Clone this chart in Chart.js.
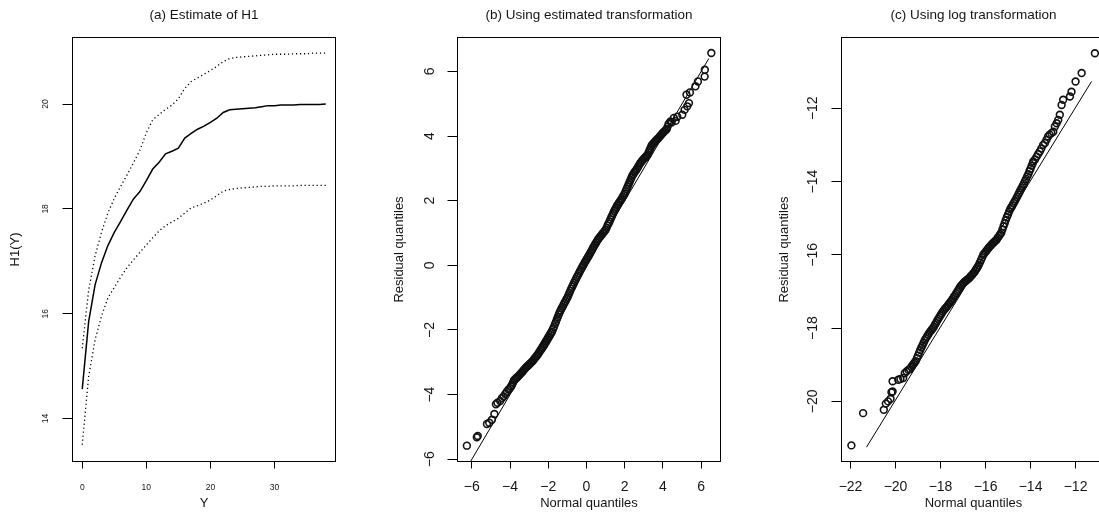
<!DOCTYPE html>
<html>
<head>
<meta charset="utf-8">
<script src="https://cdn.jsdelivr.net/npm/chart.js@4.4.1/dist/chart.umd.min.js"></script>
<style>
html, body { margin: 0; padding: 0; background: #fff; overflow: hidden; width: 1099px; height: 513px; }
canvas { position: absolute; top: 0; }
</style>
</head>
<body>
<canvas id="panelA" width="366" height="513" style="left:0px"></canvas>
<canvas id="panelB" width="367" height="513" style="left:366px"></canvas>
<canvas id="panelC" width="400" height="513" style="left:733px"></canvas>
<script>
// (a) estimate of H1 with its band
const aY = [0, 1, 2, 3, 4, 5, 6, 7, 8, 9, 10, 11, 12, 13, 14, 15, 16, 17, 18, 19,
            20, 21, 22, 23, 24, 25, 26, 27, 28, 29, 30, 31, 32, 33, 34, 35, 36, 37, 38];
const aH1 = [14.56, 15.85, 16.55, 16.97, 17.30, 17.55, 17.76, 17.98, 18.19, 18.33,
             18.54, 18.76, 18.89, 19.05, 19.10, 19.16, 19.35, 19.44, 19.52, 19.58,
             19.65, 19.73, 19.84, 19.89, 19.90, 19.91, 19.92, 19.93, 19.95, 19.97,
             19.97, 19.98, 19.98, 19.98, 19.99, 19.99, 19.99, 19.99, 20.00];
const aUpper = [15.34, 16.45, 17.10, 17.55, 17.92, 18.20, 18.43, 18.65, 18.88, 19.12,
                19.45, 19.70, 19.80, 19.90, 19.98, 20.10, 20.30, 20.43, 20.50, 20.57,
                20.64, 20.72, 20.81, 20.87, 20.89, 20.90, 20.91, 20.92, 20.93, 20.94,
                20.95, 20.95, 20.95, 20.96, 20.96, 20.96, 20.97, 20.97, 20.97];
const aLower = [13.50, 14.80, 15.50, 15.95, 16.30, 16.50, 16.70, 16.88, 17.03, 17.17,
                17.31, 17.45, 17.58, 17.68, 17.75, 17.82, 17.92, 18.02, 18.06, 18.11,
                18.17, 18.25, 18.34, 18.37, 18.39, 18.40, 18.41, 18.42, 18.43, 18.43,
                18.44, 18.44, 18.44, 18.44, 18.45, 18.45, 18.45, 18.45, 18.45];
const aXTicks = [0, 10, 20, 30];
const aYTicks = [14, 16, 18, 20];

// (b) QQ plot, estimated transformation
const bTheo = [
  -6.26, -5.74, -5.69, -5.21, -5.09, -4.95, -4.82, -4.74, -4.66, -4.52, -4.43, -4.34, -4.25, -4.17, -4.08, -4.00, -3.95,
  -3.90, -3.85, -3.80, -3.75, -3.70, -3.65, -3.60, -3.55, -3.50, -3.45,
  -3.40, -3.35, -3.30, -3.25, -3.20, -3.15, -3.10, -3.05, -3.00, -2.95,
  -2.90, -2.85, -2.80, -2.75, -2.70, -2.65, -2.60, -2.55, -2.50, -2.45,
  -2.40, -2.35, -2.30, -2.25, -2.20, -2.15, -2.10, -2.05, -2.00, -1.95,
  -1.90, -1.85, -1.80, -1.75, -1.70, -1.65, -1.60, -1.55, -1.50, -1.45,
  -1.40, -1.35, -1.30, -1.25, -1.20, -1.15, -1.10, -1.05, -1.00, -0.95,
  -0.90, -0.85, -0.80, -0.75, -0.70, -0.65, -0.60, -0.55, -0.50, -0.45,
  -0.40, -0.35, -0.30, -0.25, -0.20, -0.15, -0.10, -0.05, 0.00, 0.05,
  0.10, 0.15, 0.20, 0.25, 0.30, 0.35, 0.40, 0.45, 0.50, 0.55,
  0.60, 0.65, 0.70, 0.75, 0.80, 0.85, 0.90, 0.95, 1.00, 1.05,
  1.10, 1.15, 1.20, 1.25, 1.30, 1.35, 1.40, 1.45, 1.50, 1.55,
  1.60, 1.65, 1.70, 1.75, 1.80, 1.85, 1.90, 1.95, 2.00, 2.05,
  2.10, 2.15, 2.20, 2.25, 2.30, 2.35, 2.40, 2.45, 2.50, 2.55,
  2.60, 2.65, 2.70, 2.75, 2.80, 2.85, 2.90, 2.95, 3.00, 3.05,
  3.10, 3.15, 3.20, 3.25, 3.30, 3.35, 3.40, 3.45, 3.50, 3.55,
  3.60, 3.65, 3.70, 3.75, 3.80, 3.85, 3.90, 3.95, 4.00, 4.05,
  4.10, 4.15, 4.20, 4.25, 4.30,
  4.39, 4.45, 4.57, 4.66, 4.75, 5.01, 5.13, 5.27, 5.36, 5.23, 5.41, 5.70, 5.83, 6.18, 6.19, 6.53
];
const bResid = [
  -5.58, -5.32, -5.28, -4.91, -4.87, -4.78, -4.60, -4.30, -4.25, -4.20, -4.11, -4.06, -3.98, -3.91, -3.84, -3.80, -3.75,
  -3.70, -3.63, -3.56, -3.53, -3.50, -3.48, -3.45, -3.42, -3.39, -3.35,
  -3.32, -3.29, -3.25, -3.22, -3.18, -3.15, -3.12, -3.10, -3.07, -3.04,
  -3.01, -2.98, -2.95, -2.91, -2.87, -2.84, -2.80, -2.76, -2.72, -2.67,
  -2.63, -2.59, -2.54, -2.50, -2.45, -2.40, -2.35, -2.30, -2.25, -2.20,
  -2.15, -2.10, -2.05, -1.97, -1.90, -1.82, -1.75, -1.67, -1.60, -1.52,
  -1.45, -1.39, -1.33, -1.28, -1.22, -1.16, -1.11, -1.05, -1.00, -0.93,
  -0.86, -0.79, -0.72, -0.66, -0.60, -0.54, -0.48, -0.42, -0.36, -0.31,
  -0.25, -0.19, -0.14, -0.08, -0.03, 0.02, 0.08, 0.13, 0.18, 0.23,
  0.28, 0.33, 0.38, 0.44, 0.49, 0.55, 0.60, 0.65, 0.70, 0.75,
  0.80, 0.84, 0.88, 0.91, 0.95, 0.99, 1.02, 1.06, 1.10, 1.16,
  1.23, 1.29, 1.35, 1.42, 1.49, 1.55, 1.62, 1.68, 1.74, 1.79,
  1.85, 1.89, 1.94, 1.98, 2.02, 2.07, 2.12, 2.17, 2.22, 2.29,
  2.36, 2.43, 2.50, 2.57, 2.64, 2.71, 2.78, 2.82, 2.87, 2.91,
  2.95, 3.00, 3.05, 3.10, 3.15, 3.19, 3.23, 3.26, 3.30, 3.33,
  3.36, 3.39, 3.42, 3.49, 3.56, 3.63, 3.70, 3.74, 3.77, 3.81,
  3.84, 3.87, 3.90, 3.93, 3.96, 4.00, 4.03, 4.07, 4.10, 4.13,
  4.16, 4.19, 4.22, 4.30, 4.38,
  4.45, 4.42, 4.56, 4.47, 4.60, 4.66, 4.81, 4.92, 5.02, 5.28, 5.35, 5.54, 5.69, 5.84, 6.05, 6.57
];
const bLineX = [-6.1, 6.4];
const bLineY = [-6.1, 6.4];
const bTicks = [-6, -4, -2, 0, 2, 4, 6];

// (c) QQ plot, log transformation
const cTheo = [
  -21.96, -21.44, -20.52, -20.43, -20.33, -20.22, -20.18, -20.13, -20.13, -19.88, -19.78, -19.66, -19.59, -19.51, -19.43, -19.36,
  -19.30, -19.25, -19.20, -19.15, -19.10, -19.05, -19.00, -18.95, -18.90, -18.85,
  -18.80, -18.75, -18.70, -18.65, -18.60, -18.55, -18.50, -18.45, -18.40, -18.35,
  -18.30, -18.25, -18.20, -18.15, -18.10, -18.05, -18.00, -17.95, -17.90, -17.85,
  -17.80, -17.75, -17.70, -17.65, -17.60, -17.55, -17.50, -17.45, -17.40, -17.35,
  -17.30, -17.25, -17.20, -17.15, -17.10, -17.05, -17.00, -16.95, -16.90, -16.85,
  -16.80, -16.75, -16.70, -16.65, -16.60, -16.55, -16.50, -16.45, -16.40, -16.35,
  -16.30, -16.25, -16.20, -16.15, -16.10, -16.05, -16.00, -15.95, -15.90, -15.85,
  -15.80, -15.75, -15.70, -15.65, -15.60, -15.55, -15.50, -15.45, -15.40, -15.35,
  -15.30, -15.25, -15.20, -15.15, -15.10, -15.05, -15.00, -14.95, -14.90, -14.85,
  -14.80, -14.75, -14.70, -14.65, -14.60, -14.55, -14.50, -14.45, -14.40, -14.35,
  -14.30, -14.25, -14.20, -14.15, -14.10, -14.05, -14.00, -13.95, -13.90,
  -13.88, -13.80, -13.73, -13.66, -13.59, -13.52, -13.44, -13.36, -13.29, -13.22, -13.15, -13.07,
  -12.99, -12.92, -12.84, -12.77, -12.70, -12.62, -12.55, -12.25, -12.18, -12.00, -11.73, -11.14
];
const cResid = [
  -21.20, -20.32, -20.23, -20.06, -20.00, -19.93, -19.75, -19.73, -19.45, -19.41, -19.39, -19.36, -19.23, -19.18, -19.14, -19.12,
  -19.06, -19.02, -18.98, -18.94, -18.90, -18.82, -18.75, -18.67, -18.60, -18.53,
  -18.47, -18.40, -18.33, -18.28, -18.23, -18.18, -18.13, -18.09, -18.05, -18.01,
  -17.97, -17.91, -17.86, -17.80, -17.75, -17.70, -17.65, -17.60, -17.55, -17.51,
  -17.47, -17.44, -17.40, -17.36, -17.32, -17.28, -17.24, -17.19, -17.14, -17.10,
  -17.05, -17.00, -16.95, -16.90, -16.85, -16.82, -16.78, -16.75, -16.72, -16.70,
  -16.67, -16.65, -16.62, -16.58, -16.55, -16.51, -16.48, -16.43, -16.38, -16.33,
  -16.28, -16.21, -16.14, -16.07, -16.00, -15.96, -15.92, -15.88, -15.84, -15.80,
  -15.77, -15.73, -15.70, -15.67, -15.64, -15.61, -15.58, -15.53, -15.49, -15.44,
  -15.40, -15.31, -15.22, -15.14, -15.05, -14.97, -14.90, -14.82, -14.75, -14.70,
  -14.65, -14.59, -14.54, -14.48, -14.42, -14.36, -14.30, -14.24, -14.18, -14.12,
  -14.06, -13.99, -13.93, -13.86, -13.80, -13.72, -13.65, -13.57, -13.50,
  -13.45, -13.40, -13.32, -13.25, -13.18, -13.10, -13.00, -12.95, -12.86, -12.77, -12.72, -12.68,
  -12.64, -12.50, -12.41, -12.32, -12.18, -11.91, -11.77, -11.68, -11.55, -11.27, -11.04, -10.50
];
const cLineX = [-21.29, -11.29];
const cLineY = [-21.25, -11.27];
const cXTicks = [-22, -20, -18, -16, -14, -12];
const cYTicks = [-20, -18, -16, -14, -12];

const FONT = '"Liberation Sans", Arial, Helvetica, sans-serif';
const INK = '#151515';

const pairs = (xs, ys) => xs.map((x, i) => ({ x: x, y: ys[i] }));
const minus = v => String(v).replace('-', '\u2212');

// box around the plotting region, like R's box()
const frame = {
    id: 'frame',
    afterDatasetsDraw(chart) {
        const { ctx, chartArea: a } = chart;
        ctx.save();
        ctx.strokeStyle = '#000';
        ctx.lineWidth = 1;
        ctx.strokeRect(a.left, a.top, a.right - a.left, a.bottom - a.top);
        ctx.restore();
    }
};

function axis(min, max, tickValues, o) {
    return {
        type: 'linear',
        min: min,
        max: max,
        afterBuildTicks: s => { s.ticks = tickValues.map(v => ({ value: v })); },
        afterFit: s => { if (s.isHorizontal()) s.height = o.size; else s.width = o.size; },
        border: { display: false },
        grid: { drawOnChartArea: false, drawTicks: true, tickLength: o.tick, color: '#000', lineWidth: 1 },
        ticks: {
            autoSkip: false,
            padding: o.pad,
            color: INK,
            font: { family: FONT, size: o.font },
            minRotation: o.rot,
            maxRotation: o.rot,
            crossAlign: o.rot ? 'center' : 'near',
            callback: v => minus(v)
        },
        title: { display: true, text: o.title, color: INK, font: { family: FONT, size: 13 }, padding: o.titlePad }
    };
}

function panel(id, title, datasets, xScale, yScale, padRight) {
    new Chart(document.getElementById(id), {
        type: 'scatter',
        data: { datasets: datasets },
        options: {
            responsive: false,
            animation: false,
            devicePixelRatio: 1,
            events: [],
            layout: { padding: { left: 0, right: padRight, top: 0, bottom: 0 } },
            scales: { x: xScale, y: yScale },
            plugins: {
                legend: { display: false },
                tooltip: { enabled: false },
                title: {
                    display: true,
                    text: title,
                    fullSize: false,
                    color: INK,
                    font: { family: FONT, size: 13.5, weight: 'normal', lineHeight: 1.2 },
                    padding: { top: 6.9, bottom: 14.4 }
                }
            }
        },
        plugins: [frame]
    });
}

const curve = (xs, ys, width, dash) => ({
    data: pairs(xs, ys),
    showLine: true,
    borderColor: '#000',
    borderWidth: width,
    borderDash: dash,
    pointRadius: 0,
    tension: 0,
    clip: 0
});

const cloud = (xs, ys) => ({
    data: pairs(xs, ys),
    showLine: false,
    pointStyle: 'circle',
    pointRadius: 3.4,
    pointBorderWidth: 1.6,
    pointBorderColor: '#111',
    pointBackgroundColor: 'rgba(0,0,0,0)'
});

panel('panelA', '(a) Estimate of H1', [
    curve(aY, aH1, 1.5, []),
    curve(aY, aUpper, 1.3, [1.2, 2.8]),
    curve(aY, aLower, 1.3, [1.2, 2.8])
],
    axis(-1.52, 39.52, aXTicks, { size: 51.5, tick: 7, pad: 14.1, font: 8.5, rot: 0, title: 'Y', titlePad: { top: 0, bottom: 2 } }),
    axis(13.18, 21.27, aYTicks, { size: 72.5, tick: 10, pad: 12, font: 8.5, rot: 90, title: 'H1(Y)', titlePad: { top: 8.1, bottom: 0 } }),
    30.5);

panel('panelB', '(b) Using estimated transformation', [
    cloud(bTheo, bResid),
    curve(bLineX, bLineY, 1, [])
],
    axis(-6.75, 7.01, bTicks, { size: 51.5, tick: 7, pad: 9.8, font: 14, rot: 0, title: 'Normal quantiles', titlePad: { top: 0, bottom: 2 } }),
    axis(-6.07, 7.05, bTicks, { size: 91.5, tick: 10, pad: 9.5, font: 14, rot: 90, title: 'Residual quantiles', titlePad: { top: 25.2, bottom: 0 } }),
    12.5);

panel('panelC', '(c) Using log transformation', [
    cloud(cTheo, cResid),
    curve(cLineX, cLineY, 1, [])
],
    axis(-22.4, -10.67, cXTicks, { size: 51.5, tick: 7, pad: 9.8, font: 14, rot: 0, title: 'Normal quantiles', titlePad: { top: 0, bottom: 2 } }),
    axis(-21.64, -10.07, cYTicks, { size: 108.5, tick: 10, pad: 6.3, font: 14, rot: 90, title: 'Residual quantiles', titlePad: { top: 43.4, bottom: 0 } }),
    27.5);
</script>
</body>
</html>
